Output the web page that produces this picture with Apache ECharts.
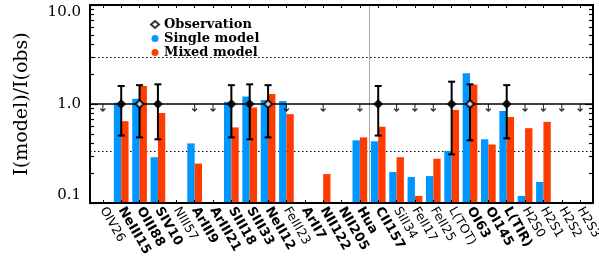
<!DOCTYPE html>
<html><head><meta charset="utf-8">
<script src="https://cdn.jsdelivr.net/npm/echarts@6/dist/echarts.min.js"></script>
<style>html,body{margin:0;padding:0;background:#fff}#c{width:599px;height:272px}</style>
</head><body><div id="c"></div>
<script>
const categories = ['OIV26','NeIII15','OIII88','SIV10','NIII57','ArIII9','ArIII21','SIII18','SIII33','NeII12','FeIII23','ArII7','NII122','NII205','Hua','CII157','SiII34','FeII17','FeII25','L(TOT)','OI63','OI145','L(TIR)','H2S0','H2S1','H2S2','H2S3'];
const singleModel = [null,1.03,1.13,0.29,null,0.40,null,1.05,1.19,1.10,1.07,null,null,null,0.43,0.42,0.206,0.183,0.187,0.335,2.04,0.44,0.85,0.118,0.163,null,null];
const mixedModel  = [null,0.67,1.52,0.81,null,0.25,null,0.58,0.92,1.26,0.79,null,0.196,null,0.46,0.59,0.29,0.118,0.28,0.87,1.57,0.39,0.74,0.57,0.66,null,null];
const observed    = [null,1,1,1,null,null,null,1,1,1,null,null,null,null,null,1,null,null,null,1,1,null,1,null,null,null,null];
const openObs     = ['OIII88','NeII12','OI63'];
const errLow      = [null,0.48,0.46,0.44,null,null,null,0.46,0.44,0.46,null,null,null,null,null,0.48,null,null,null,0.31,0.43,null,0.45,null,null,null,null];
const errHigh     = [null,1.52,1.55,1.58,null,null,null,1.55,1.58,1.55,null,null,null,null,null,1.52,null,null,null,1.68,1.58,null,1.55,null,null,null,null];
const upperLimit  = [1,null,null,null,null,1,1,null,null,null,1,null,1,null,1,null,1,1,1,null,null,1,null,1,1,1,1];
const boldLabels  = ['NeIII15','OIII88','SIV10','ArIII9','ArIII21','SIII18','SIII33','NeII12','ArII7','NII122','NII205','Hua','CII157','OI63','OI145','L(TIR)'];
const yMajorTicks = [0.1, 1, 10];
const yMinorTicks = [0.2,0.3,0.4,0.5,0.6,0.7,0.8,0.9,2,3,4,5,6,7,8,9];
const unityLine = 1, upperBand = 3, lowerBand = 0.333, divider = 14.5;

const catIdx = categories.map((c, i) => i);
const BLUE = '#0096ff', RED = '#ff3c00';

function barSeries(name, values, color, side) {
  return {
    type: 'custom', name, xAxisIndex: 0, yAxisIndex: 0, z: 2,
    itemStyle: { color },
    encode: { x: 0, y: 1 },
    data: values.map((v, i) => v == null ? null : [i, v]).filter(d => d),
    renderItem(params, api) {
      const x = api.value(0), v = api.value(1);
      const top = api.coord([x, v]);
      const base = api.coord([x, 0.1]);
      const w = api.coord([x + 0.4, v])[0] - top[0];
      return { type: 'rect', shape: { x: side < 0 ? top[0] - w : top[0], y: top[1], width: w, height: base[1] - top[1] }, style: { fill: color } };
    }
  };
}

const xAxisBase = {
  type: 'value', min: -0.7, max: 26.7, gridIndex: 0, z: 10,
  splitLine: { show: false },
  axisLine: { show: true, onZero: false, lineStyle: { color: '#000', width: 2 } },
  axisTick: { show: true, inside: true, length: 3, customValues: catIdx, lineStyle: { color: '#000', width: 1 } }
};
const yAxisBase = {
  type: 'log', logBase: 10, min: 0.1, max: 10, z: 10,
  splitLine: { show: false },
  axisLine: { show: true, onZero: false, lineStyle: { color: '#000', width: 2 } }
};

const option = {
  animation: false,
  backgroundColor: '#fff',
  grid: { left: 90, right: 6, top: 5, bottom: 69, containLabel: false, outerBoundsMode: 'none' },
  legend: {
    orient: 'vertical', left: 145, top: 13, itemWidth: 8, itemHeight: 7, itemGap: 1,
    textStyle: { fontFamily: 'DejaVu Serif', fontWeight: 'bold', fontSize: 13, color: '#000' },
    data: [
      { name: 'Observation', icon: 'diamond', itemStyle: { color: '#fff', borderColor: '#000', borderWidth: 2 } },
      { name: 'Single model', icon: 'circle' },
      { name: 'Mixed model', icon: 'circle' }
    ]
  },
  xAxis: [
    Object.assign({}, xAxisBase, {
      position: 'bottom',
      axisLabel: {
        show: true, customValues: catIdx, rotate: -60, margin: 5, color: '#000',
        formatter: v => {
          const n = categories[Math.round(v)];
          return boldLabels.includes(n) ? '{b|' + n + '}' : '{n|' + n + '}';
        },
        rich: {
          b: { fontFamily: 'DejaVu Sans', fontWeight: 'bold', fontSize: 13, color: '#000' },
          n: { fontFamily: 'DejaVu Sans', fontSize: 12.5, color: '#000' }
        }
      }
    }),
    Object.assign({}, xAxisBase, { position: 'top', axisLabel: { show: false } })
  ],
  yAxis: [
    Object.assign({}, yAxisBase, {
      position: 'left',
      name: 'I(model)/I(obs)', nameLocation: 'middle', nameGap: 58,
      nameTextStyle: { fontFamily: 'DejaVu Serif', fontSize: 19, color: '#000' },
      axisTick: { show: true, inside: true, length: 8, customValues: yMajorTicks, lineStyle: { color: '#000', width: 1.2 } },
      axisLabel: {
        show: true, customValues: yMajorTicks, margin: 9, color: '#000',
        fontFamily: 'DejaVu Serif', fontSize: 15,
        formatter: v => Number(v).toFixed(1),
        verticalAlignMaxLabel: 'top', verticalAlignMinLabel: 'bottom'
      }
    }),
    Object.assign({}, yAxisBase, {
      position: 'right',
      axisTick: { show: true, inside: true, length: 8, customValues: yMajorTicks, lineStyle: { color: '#000', width: 1.2 } },
      axisLabel: { show: false }
    }),
    Object.assign({}, yAxisBase, {
      position: 'left', axisLine: { show: false, onZero: false },
      axisTick: { show: true, inside: true, length: 4, customValues: yMinorTicks, lineStyle: { color: '#000', width: 1.2 } },
      axisLabel: { show: false }
    }),
    Object.assign({}, yAxisBase, {
      position: 'right', axisLine: { show: false, onZero: false },
      axisTick: { show: true, inside: true, length: 4, customValues: yMinorTicks, lineStyle: { color: '#000', width: 1.2 } },
      axisLabel: { show: false }
    })
  ],
  series: [
    {
      type: 'line', name: 'refs', xAxisIndex: 0, yAxisIndex: 0, data: [], z: 1,
      markLine: {
        silent: true, symbol: ['none', 'none'], label: { show: false }, z: 1,
        data: [
          { yAxis: upperBand, lineStyle: { type: [1.5, 2.5], color: '#000', width: 1.2 } },
          { yAxis: lowerBand, lineStyle: { type: [1.5, 2.5], color: '#000', width: 1.2 } },
          { xAxis: divider, lineStyle: { type: 'solid', color: '#aaa', width: 1 } }
        ]
      }
    },
    barSeries('Single model', singleModel, BLUE, -1),
    barSeries('Mixed model', mixedModel, RED, 1),
    {
      type: 'line', name: 'unity', xAxisIndex: 0, yAxisIndex: 0, data: [], z: 4,
      markLine: {
        silent: true, symbol: ['none', 'none'], label: { show: false }, z: 4,
        data: [{ yAxis: unityLine, lineStyle: { type: 'solid', color: '#000', width: 1.6 } }]
      }
    },
    {
      type: 'scatter', name: 'Upper limit', xAxisIndex: 0, yAxisIndex: 0, z: 5,
      symbol: 'path://M4,0 L4,9 M1.5,6 L4,9 L6.5,6', symbolSize: [5, 7], symbolOffset: [0, 3.5],
      itemStyle: { color: 'rgba(0,0,0,0)', borderColor: '#000', borderWidth: 1.3 },
      data: upperLimit.map((v, i) => v == null ? null : [i, v]).filter(d => d)
    },
    {
      type: 'custom', name: 'Error', xAxisIndex: 0, yAxisIndex: 0, z: 6,
      encode: { x: 0, y: [1, 2] },
      data: errLow.map((v, i) => v == null ? null : [i, v, errHigh[i]]).filter(d => d),
      renderItem(params, api) {
        const x = api.value(0);
        const lo = api.coord([x, api.value(1)]);
        const hi = api.coord([x, api.value(2)]);
        const c = 3.5, st = { stroke: '#000', lineWidth: 2 };
        return { type: 'group', children: [
          { type: 'line', shape: { x1: lo[0], y1: lo[1], x2: hi[0], y2: hi[1] }, style: st },
          { type: 'line', shape: { x1: lo[0] - c, y1: lo[1], x2: lo[0] + c, y2: lo[1] }, style: st },
          { type: 'line', shape: { x1: hi[0] - c, y1: hi[1], x2: hi[0] + c, y2: hi[1] }, style: st }
        ] };
      }
    },
    {
      type: 'scatter', name: 'Observation', xAxisIndex: 0, yAxisIndex: 0, z: 7,
      symbol: 'diamond', symbolSize: 8,
      itemStyle: { color: '#000', borderColor: '#000', borderWidth: 1.5 },
      data: observed.map((v, i) => v == null ? null : {
        value: [i, v],
        itemStyle: openObs.includes(categories[i]) ? { color: '#fff', borderColor: '#000', borderWidth: 2 } : { color: '#000' }
      }).filter(d => d)
    }
  ]
};
const chart = echarts.init(document.getElementById('c'), null, { renderer: 'canvas' });
chart.setOption(option);
</script></body></html>
